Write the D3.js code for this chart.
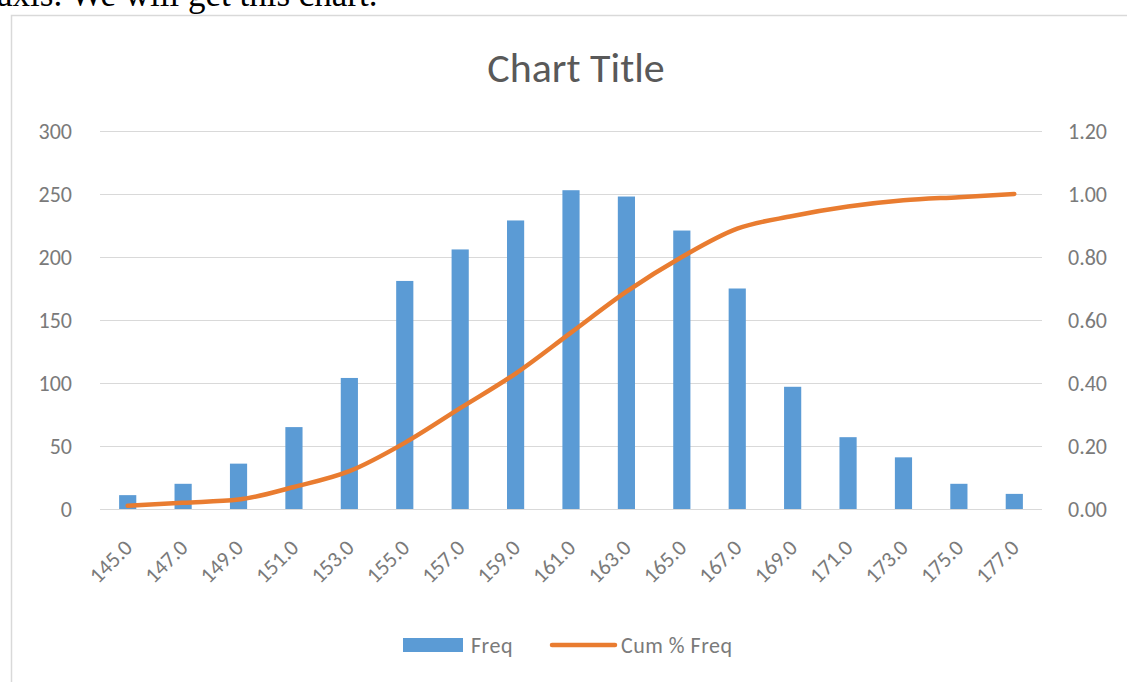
<!DOCTYPE html>
<html>
<head>
<meta charset="utf-8">
<script src="https://cdn.jsdelivr.net/npm/d3@7"></script>
<style>
  html, body { margin: 0; padding: 0; background: #fff; }
  svg { display: block; }
</style>
</head>
<body>
<svg id="chart" width="1127" height="682"></svg>
<script>
const categories = ["145.0","147.0","149.0","151.0","153.0","155.0","157.0","159.0","161.0","163.0","165.0","167.0","169.0","171.0","173.0","175.0","177.0"];
const freq = [11, 20, 36, 65, 104, 181, 206, 229, 253, 248, 221, 175, 97, 57, 41, 20, 12];
const cumFreq = [0.01, 0.02, 0.03, 0.07, 0.12, 0.21, 0.32, 0.43, 0.56, 0.69, 0.80, 0.89, 0.93, 0.96, 0.98, 0.99, 1.00];
const leftTicks = [0, 50, 100, 150, 200, 250, 300];
const rightTicks = [0, 0.2, 0.4, 0.6, 0.8, 1.0, 1.2];
const titleText = "Chart Title";
const seriesNames = ["Freq", "Cum % Freq"];
const captionText = "axis. We will get this chart.";

const svg = d3.select("#chart");
const font = "Calibri, Carlito, Lato, 'Open Sans', sans-serif";
const textColor = "#7a7a7a";
const titleColor = "#595959";
const gridColor = "#d9d9d9";
const blue = "#5B9BD5";
const orange = "#E97C30";

// caption text from surrounding page (partially cut, as in the source image)
svg.append("text")
  .attr("x", -3).attr("y", 6)
  .attr("font-family", "'Liberation Serif', 'Times New Roman', serif")
  .attr("font-size", 35)
  .attr("fill", "#000")
  .text(captionText);

// chart border
svg.append("rect")
  .attr("x", 11.5).attr("y", 15.5)
  .attr("width", 1130).attr("height", 700)
  .attr("fill", "#fff")
  .attr("stroke", gridColor).attr("stroke-width", 1.5);

const plot = { left: 100, right: 1042, top: 131, bottom: 509 };

const x = d3.scaleBand().domain(categories).range([plot.left, plot.right]).paddingInner(0.69).paddingOuter(0.345);
const yL = d3.scaleLinear().domain([0, 300]).range([plot.bottom, plot.top]);
const yR = d3.scaleLinear().domain([0, 1.2]).range([plot.bottom, plot.top]);

// gridlines
svg.append("g").selectAll("line").data(leftTicks).join("line")
  .attr("x1", plot.left).attr("x2", plot.right)
  .attr("y1", d => Math.round(yL(d)) + 0.5).attr("y2", d => Math.round(yL(d)) + 0.5)
  .attr("stroke", gridColor).attr("stroke-width", 1.2);

// left axis
const axL = svg.append("g").attr("transform", `translate(${plot.left},0)`)
  .call(d3.axisLeft(yL).tickValues(leftTicks).tickSize(0).tickPadding(28).tickFormat(d3.format("d")));
axL.select(".domain").remove();
axL.selectAll("text").attr("font-family", font).attr("font-size", 22).attr("fill", textColor);

// right axis
const axR = svg.append("g").attr("transform", `translate(${plot.right},0)`)
  .call(d3.axisRight(yR).tickValues(rightTicks).tickSize(0).tickPadding(26).tickFormat(d3.format(".2f")));
axR.select(".domain").remove();
axR.selectAll("text").attr("font-family", font).attr("font-size", 22).attr("fill", textColor);

// bars
svg.append("g").selectAll("rect").data(freq).join("rect")
  .attr("x", (d, i) => x(categories[i]))
  .attr("width", x.bandwidth())
  .attr("y", d => yL(d))
  .attr("height", d => yL(0) - yL(d))
  .attr("fill", blue);

// bottom axis
const axB = svg.append("g").attr("transform", `translate(0,${plot.bottom})`)
  .call(d3.axisBottom(x).tickSize(0).tickPadding(0));
axB.select(".domain").remove();
axB.selectAll("text")
  .attr("font-family", font).attr("font-size", 22).attr("fill", textColor)
  .attr("text-anchor", "end")
  .attr("y", 0)
  .attr("dy", null)
  .attr("transform", "translate(6,40) rotate(-45)");

// cumulative line
const line = d3.line()
  .x((d, i) => x(categories[i]) + x.bandwidth() / 2)
  .y(d => yR(d))
  .curve(d3.curveMonotoneX);
svg.append("path").datum(cumFreq)
  .attr("d", line)
  .attr("fill", "none")
  .attr("stroke", orange)
  .attr("stroke-width", 4.5)
  .attr("stroke-linecap", "round")
  .attr("stroke-linejoin", "round");

// title
svg.append("text")
  .attr("x", 576).attr("y", 82)
  .attr("text-anchor", "middle")
  .attr("font-family", font).attr("font-size", 42).attr("fill", titleColor)
  .text(titleText);

// legend
const lg = svg.append("g");
lg.append("rect").attr("x", 403).attr("y", 638).attr("width", 60).attr("height", 14).attr("fill", blue);
lg.append("text").attr("x", 471).attr("y", 653)
  .attr("font-family", font).attr("font-size", 22).attr("letter-spacing", 0.5).attr("fill", textColor).text(seriesNames[0]);
lg.append("line").attr("x1", 552).attr("x2", 615).attr("y1", 645).attr("y2", 645)
  .attr("stroke", orange).attr("stroke-width", 4.5).attr("stroke-linecap", "round");
lg.append("text").attr("x", 621).attr("y", 653)
  .attr("font-family", font).attr("font-size", 22).attr("letter-spacing", 0.5).attr("fill", textColor).text(seriesNames[1]);
</script>
</body>
</html>
